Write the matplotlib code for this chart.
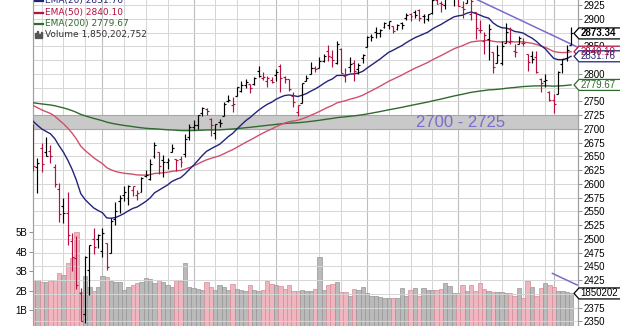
import numpy as np
import pandas as pd
import matplotlib
matplotlib.use('Agg')
import matplotlib.pyplot as plt
from matplotlib.patches import Polygon, Rectangle

# ---- data: daily bars Dec 6 2018 .. Jun 7 2019 ----
holidays = ['2018-12-25', '2019-01-01', '2019-01-21', '2019-02-18', '2019-04-19', '2019-05-27']
dates = pd.bdate_range('2018-12-06', '2019-06-07')
dates = dates[~dates.isin(pd.to_datetime(holidays))]

opens = [2663.5, 2691.3, 2630.9, 2664.4, 2658.2, 2658.7, 2629.7, 2590.8, 2559.9, 2547.1,
         2496.8, 2465.4, 2400.6, 2363.1, 2442.5, 2498.8, 2498.9, 2477.0, 2491.9, 2474.3,
         2535.6, 2568.1, 2580.0, 2573.5, 2588.1, 2580.3, 2585.1, 2614.8, 2609.3, 2651.3,
         2657.9, 2643.5, 2638.8, 2657.4, 2645.0, 2644.9, 2653.6, 2685.5, 2702.3, 2706.5,
         2728.3, 2735.1, 2717.5, 2692.4, 2712.4, 2722.6, 2750.3, 2743.5, 2760.2, 2769.3,
         2779.1, 2780.7, 2780.7, 2804.4, 2792.4, 2787.5, 2788.1, 2798.2, 2814.4, 2794.4,
         2790.3, 2760.2, 2730.8, 2747.6, 2787.3, 2799.8, 2810.4, 2810.8, 2822.6, 2840.8,
         2831.3, 2819.7, 2844.5, 2796.0, 2812.7, 2819.7, 2809.4, 2828.3, 2848.6, 2868.2,
         2876.1, 2874.0, 2884.2, 2888.5, 2886.6, 2881.4, 2891.9, 2900.9, 2908.3, 2912.3,
         2916.0, 2904.8, 2898.8, 2910.0, 2934.0, 2929.0, 2925.8, 2940.6, 2937.1, 2952.3,
         2922.2, 2929.2, 2908.9, 2913.0, 2879.6, 2859.8, 2863.1, 2840.2, 2820.1, 2820.4,
         2855.8, 2858.6, 2841.9, 2854.0, 2856.1, 2836.7, 2832.4, 2830.0, 2790.3, 2786.9,
         2766.2, 2751.5, 2762.6, 2818.1, 2828.5, 2852.9]
highs = [2696.2, 2708.5, 2647.5, 2674.4, 2685.4, 2670.2, 2635.1, 2601.1, 2574.0, 2585.3,
         2509.6, 2504.4, 2410.3, 2467.8, 2489.1, 2520.3, 2509.2, 2519.5, 2493.1, 2538.1,
         2566.2, 2579.8, 2595.3, 2597.8, 2596.3, 2589.3, 2613.1, 2625.8, 2645.1, 2675.5,
         2657.9, 2653.2, 2647.2, 2672.4, 2645.0, 2650.9, 2690.4, 2709.0, 2716.7, 2725.0,
         2739.0, 2738.1, 2719.3, 2708.1, 2718.1, 2748.2, 2761.9, 2757.9, 2775.7, 2787.3,
         2789.9, 2781.6, 2794.2, 2813.5, 2803.1, 2795.8, 2793.7, 2808.0, 2816.9, 2796.4,
         2790.3, 2767.3, 2744.1, 2784.0, 2798.3, 2821.2, 2815.0, 2830.7, 2835.4, 2852.4,
         2843.5, 2860.3, 2846.2, 2809.8, 2829.9, 2825.6, 2819.7, 2836.0, 2869.4, 2872.9,
         2885.3, 2881.3, 2893.2, 2896.0, 2886.9, 2889.7, 2893.4, 2910.5, 2909.6, 2916.1,
         2918.0, 2908.4, 2909.5, 2936.3, 2936.8, 2933.1, 2939.9, 2949.5, 2948.2, 2954.1,
         2931.7, 2947.9, 2937.3, 2913.0, 2898.0, 2876.0, 2891.3, 2840.2, 2852.5, 2858.7,
         2892.2, 2885.5, 2853.9, 2868.9, 2865.5, 2836.7, 2841.4, 2840.5, 2792.0, 2799.0,
         2769.0, 2763.1, 2804.5, 2827.3, 2852.1, 2885.0]
lows = [2621.5, 2623.1, 2583.2, 2621.3, 2650.3, 2637.3, 2593.8, 2530.5, 2528.7, 2489.0,
        2441.2, 2408.6, 2351.1, 2346.6, 2397.9, 2472.9, 2482.8, 2467.5, 2444.0, 2474.3,
        2524.6, 2547.6, 2568.9, 2562.0, 2577.4, 2570.4, 2585.1, 2612.7, 2606.4, 2647.6,
        2617.3, 2612.9, 2627.0, 2657.3, 2624.1, 2631.1, 2648.3, 2678.7, 2696.9, 2698.8,
        2724.0, 2724.2, 2687.3, 2681.8, 2703.8, 2722.6, 2748.6, 2731.2, 2760.2, 2767.3,
        2774.1, 2764.6, 2779.1, 2795.0, 2789.5, 2775.1, 2782.5, 2787.4, 2767.7, 2783.0,
        2768.7, 2739.1, 2722.3, 2747.6, 2786.7, 2799.8, 2803.5, 2810.8, 2822.0, 2823.3,
        2812.4, 2817.4, 2800.5, 2785.0, 2804.0, 2787.7, 2798.8, 2819.2, 2848.6, 2858.8,
        2865.2, 2867.1, 2883.0, 2880.8, 2873.3, 2879.1, 2882.0, 2898.4, 2896.5, 2900.7,
        2895.5, 2891.9, 2896.4, 2908.5, 2926.1, 2912.8, 2917.6, 2939.4, 2924.1, 2923.4,
        2900.5, 2929.2, 2898.2, 2862.6, 2873.3, 2836.4, 2825.4, 2801.4, 2820.1, 2815.1,
        2855.8, 2854.2, 2831.3, 2854.0, 2851.1, 2805.5, 2820.2, 2801.6, 2766.1, 2776.7,
        2750.5, 2728.8, 2762.6, 2800.9, 2822.5, 2852.9]
closes = [2695.9, 2633.1, 2637.7, 2636.8, 2651.1, 2650.5, 2600.0, 2545.9, 2546.2, 2507.0,
          2467.4, 2416.6, 2351.1, 2467.7, 2488.8, 2485.7, 2506.9, 2510.0, 2447.9, 2531.9,
          2549.7, 2574.4, 2585.0, 2596.6, 2596.3, 2582.6, 2610.3, 2616.1, 2636.0, 2670.7,
          2632.9, 2638.7, 2642.3, 2664.8, 2643.9, 2640.0, 2681.1, 2704.1, 2706.5, 2724.9,
          2737.7, 2731.6, 2706.1, 2707.9, 2709.8, 2744.7, 2753.0, 2745.7, 2775.6, 2779.8,
          2784.7, 2774.9, 2792.7, 2796.1, 2793.9, 2792.4, 2784.5, 2803.7, 2792.8, 2789.7,
          2771.5, 2748.9, 2743.1, 2783.3, 2791.5, 2810.9, 2808.5, 2822.5, 2832.9, 2832.6,
          2824.2, 2854.9, 2800.7, 2798.4, 2818.5, 2805.4, 2815.4, 2834.4, 2867.2, 2867.2,
          2873.4, 2879.4, 2892.7, 2895.8, 2878.2, 2888.2, 2888.3, 2907.4, 2905.6, 2907.1,
          2900.5, 2905.0, 2908.0, 2933.7, 2927.3, 2926.2, 2939.9, 2943.0, 2945.8, 2923.7,
          2917.5, 2945.6, 2932.5, 2884.1, 2879.4, 2870.7, 2881.4, 2811.9, 2834.4, 2851.0,
          2876.3, 2859.5, 2840.2, 2864.4, 2856.3, 2822.2, 2826.1, 2802.4, 2783.0, 2788.9,
          2752.1, 2744.5, 2803.3, 2826.2, 2843.5, 2873.34]
prev_close = 2700.1  # Dec 4 close
# volume in billions
volumes = [2.50, 2.54, 2.54, 2.43, 2.45, 2.47, 2.55, 2.88, 2.80, 3.39,
           3.65, 5.00, 1.90, 2.74, 2.20, 2.00, 2.20, 2.75, 2.68, 2.50,
           2.45, 2.45, 2.04, 2.18, 2.30, 2.36, 2.45, 2.62, 2.57, 2.36,
           2.54, 2.45, 2.28, 2.20, 2.54, 2.50, 3.39, 2.20, 2.15, 2.10,
           2.04, 2.45, 2.20, 2.04, 2.28, 2.20, 2.04, 2.33, 2.10, 2.04,
           2.00, 2.28, 2.04, 2.00, 2.04, 2.50, 2.35, 2.28, 2.23, 2.10,
           2.28, 2.00, 2.00, 2.04, 2.00, 2.00, 2.10, 3.74, 2.04, 2.28,
           2.33, 2.45, 1.94, 1.90, 1.74, 2.10, 2.04, 2.18, 1.85, 1.74,
           1.74, 1.65, 1.60, 1.60, 1.60, 1.62, 2.15, 1.74, 2.04, 2.15,
           1.74, 2.15, 2.04, 2.04, 2.04, 2.10, 2.36, 2.23, 1.85, 1.85,
           2.28, 2.00, 2.28, 2.00, 2.36, 2.10, 2.00, 1.94, 1.90, 1.90,
           1.85, 1.85, 1.74, 2.15, 1.60, 2.50, 2.20, 1.74, 2.15, 2.36,
           2.28, 2.20, 2.00, 1.95, 1.90, 1.850202752]
ema_seeds = {20: 2725.0, 50: 2749.0, 200: 2749.0}  # EMA values on Dec 4
band = (2700, 2725)
trend_idx = [99, 126.6]
trend_val = [2951.0, 2848.0]
trend2_idx = [120.7, 126.4]
trend2_val = [2437.0, 2416.0]
price_ticks = list(range(2350, 2926, 25))
hidden_ticks = [2875, 2825, 2775, 2400]   # covered by the value tags
vol_ticks = [1, 2, 3, 4, 5]

RED = '#b5103f'
NAVY = '#23237a'
PINKLINE = '#d0506c'
GREEN = '#2f6b2f'
PURPLE = '#7a6ccc'
GRID = '#d6d6d6'


def ema(vals, n, seed):
    a = 2.0 / (n + 1)
    out, e = [], seed
    for v in vals:
        e = e + a * (v - e)
        out.append(e)
    return np.array(out)


x = np.arange(len(closes))
c = np.array(closes)
pc = np.concatenate([[prev_close], c[:-1]])
down = c < pc

W, H = 620, 326
fig = plt.figure(figsize=(W / 100, H / 100), dpi=100)
fig.patch.set_facecolor('white')
axv = fig.add_axes([33 / W, 0, 545 / W, 1])
ax = axv.twinx()

xlim = (1.0, 126.6)
axv.set_xlim(*xlim)
axv.set_ylim(0.18, 16.9)
ax.set_ylim(2341.4, 2934.1)
ax.set_xlim(*xlim)

# grid: horizontal every 25, vertical every 5 bars counted from each month start
ax.set_yticks(price_ticks)
for t in price_ticks:
    ax.axhline(t, color=GRID, lw=0.7, zorder=0)
mon = np.array([dt.month for dt in dates])
start = -2  # Dec 3 (first bar of December) sits two bars before Dec 6
for i in range(len(dates)):
    if i > 0 and mon[i] != mon[i - 1]:
        start = i
        axv.axvline(i, color='#bebebe', lw=0.8, zorder=0)
    elif (i - start) % 5 == 0 and not (i + 1 < len(dates) and mon[i + 1] != mon[i]):
        axv.axvline(i, color=GRID, lw=0.75, zorder=0)

# volume
vcol = np.where(down, '#efb6bf', '#bababa')
ecol = np.where(down, '#d68c99', '#969696')
axv.bar(x, volumes, width=1.0, color=vcol, edgecolor=ecol, linewidth=0.5, zorder=1)

# band
ax.axhspan(band[0], band[1], facecolor='#c9c9c9', edgecolor='#a8a8a8', lw=0.8, zorder=1)
ax.text((461 - 33) / 545, 2711, '2700 - 2725', transform=ax.get_yaxis_transform(),
        color=PURPLE, fontsize=12, family='Liberation Sans', ha='center', va='center', zorder=2)

# EMAs
ax.plot(x, ema(closes, 200, ema_seeds[200]), color=GREEN, lw=1.0, zorder=3)
ax.plot(x, ema(closes, 50, ema_seeds[50]), color=PINKLINE, lw=1.0, zorder=3)
ax.plot(x, ema(closes, 20, ema_seeds[20]), color=NAVY, lw=1.0, zorder=3)

# trend lines
ax.plot(trend_idx, trend_val, color=PURPLE, lw=1.1, zorder=3)
ax.plot(trend2_idx, trend2_val, color=PURPLE, lw=1.1, zorder=3)

# OHLC bars
bcol = np.where(down, RED, 'black')
ax.vlines(x, lows, highs, colors=bcol, lw=0.85, zorder=4)
ax.hlines(opens, x - 0.45, x, colors=bcol, lw=0.85, zorder=4)
ax.hlines(closes, x, x + 0.45, colors=bcol, lw=0.85, zorder=4)

# axes styling
for a in (ax, axv):
    a.spines['top'].set_visible(False)
    a.spines['bottom'].set_visible(False)
    a.spines['left'].set_color('#a0a0a0')
    a.spines['right'].set_color('#a0a0a0')
    a.set_xticks([])
    a.patch.set_visible(False)
ax.tick_params(axis='y', direction='out', length=3, width=0.6, color='#808080',
               labelsize=7, pad=1)
ax.set_yticklabels(['' if t in hidden_ticks else str(t) for t in price_ticks],
                   family='Liberation Sans')
axv.set_yticks(vol_ticks)
axv.set_yticklabels([f'{t}B' for t in vol_ticks], family='Liberation Sans')
axv.tick_params(axis='y', direction='out', length=3, width=0.6, color='#808080',
                labelsize=7, pad=1)


# legend
def ftxt(px, py, s, **kw):
    fig.text(px / W, 1 - py / H, s, va='center', ha='left', family='DejaVu Sans',
             fontsize=6.5, **kw)


for py, lab, col in [(1, 'EMA(20) 2831.76', NAVY), (12.5, 'EMA(50) 2840.10', RED),
                     (23.5, 'EMA(200) 2779.67', GREEN)]:
    fig.add_artist(plt.Line2D([35 / W, 43 / W], [1 - py / H] * 2, color=col, lw=1.6))
    ftxt(45, py, lab, color=col)
for k, hh in enumerate([5, 7, 4, 6]):
    fig.add_artist(Rectangle(((35 + 2 * k) / W, 1 - 38 / H), 1.2 / W, hh / H,
                             color='#555555'))
ftxt(45, 34, 'Volume 1,850,202,752', color='#333333')


# value tags on right axis
def tag(axis, val, s, col, bold=False):
    ypx = axis.transData.transform((0, val))[1]
    hgt = 5.5
    verts = [(574, ypx), (579, ypx + hgt), (625, ypx + hgt), (625, ypx - hgt), (579, ypx - hgt)]
    fig.add_artist(Polygon([(vx / W, vy / H) for vx, vy in verts], closed=True,
                           facecolor='white', edgecolor=col, lw=0.9, transform=fig.transFigure))
    fig.text(580.5 / W, ypx / H, s, color=col if not bold else 'black', fontsize=7,
             family='Liberation Sans', weight='bold' if bold else 'normal', va='center', ha='left')


tag(ax, 2779.67, '2779.67', GREEN)
tag(ax, 2840.10, '2840.10', RED)
tag(ax, 2831.76, '2831.76', NAVY)
tag(ax, closes[-1], f'{closes[-1]:.2f}', 'black', bold=True)
tag(axv, volumes[-1], '1850202', 'black')

fig.savefig('out.png', dpi=100)
